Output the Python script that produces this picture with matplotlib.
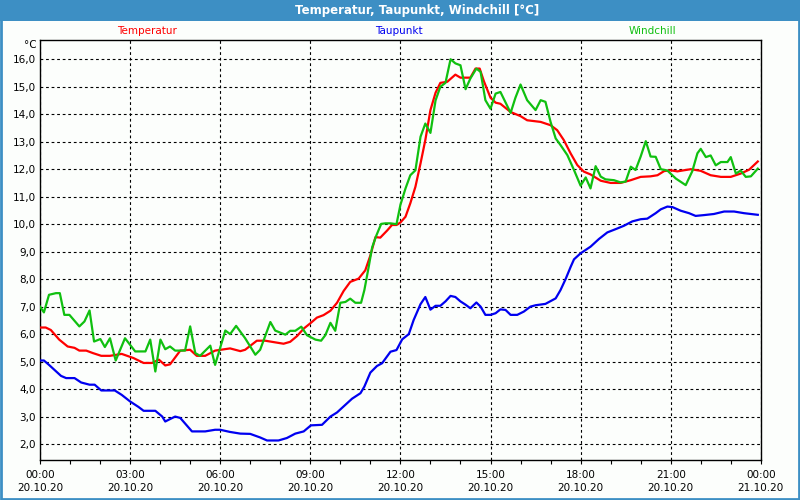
import matplotlib
matplotlib.use("Agg")
import matplotlib.pyplot as plt
from matplotlib.patches import Rectangle
from matplotlib.ticker import FixedLocator, MultipleLocator

# hours since 20.10.20 00:00
temp_h = [0, 0.19, 0.36, 0.64, 0.92, 1.15, 1.31, 1.54, 1.76, 2.04,
          2.33, 2.72, 3.11, 3.45, 3.73, 3.96, 4.17, 4.33, 4.67, 5.0,
          5.22, 5.5, 5.83, 6.33, 6.67, 6.83, 7.22, 7.5, 7.83, 8.11,
          8.33, 8.56, 8.78, 9.02, 9.22, 9.44, 9.67, 9.89, 10.11, 10.33,
          10.61, 10.83, 11.0, 11.17, 11.33, 11.56, 11.72, 11.87, 12.0, 12.17,
          12.33, 12.5, 12.67, 12.83, 13.0, 13.17, 13.33, 13.56, 13.83, 14.0,
          14.33, 14.5, 14.64, 14.78, 15.0, 15.17, 15.33, 15.67, 16.0, 16.22,
          16.67, 17.0, 17.22, 17.44, 17.67, 17.89, 18.11, 18.33, 18.67, 19.0,
          19.33, 19.67, 20.0, 20.33, 20.56, 20.78, 21.0, 21.22, 21.44, 21.67,
          22.0, 22.33, 22.67, 23.0, 23.33, 23.61, 23.9]
temp = [6.24, 6.24, 6.15, 5.8, 5.55, 5.5, 5.4, 5.4, 5.31, 5.21,
        5.21, 5.28, 5.13, 4.95, 4.95, 5.07, 4.86, 4.9, 5.4, 5.43,
        5.21, 5.21, 5.4, 5.48, 5.38, 5.43, 5.76, 5.76, 5.7, 5.65,
        5.72, 5.93, 6.2, 6.41, 6.6, 6.69, 6.85, 7.14, 7.57, 7.9,
        8.02, 8.32, 8.86, 9.53, 9.51, 9.77, 9.97, 9.97, 10.06, 10.27,
        10.76, 11.36, 12.21, 13.06, 14.15, 14.78, 15.14, 15.18, 15.44, 15.33,
        15.33, 15.66, 15.66, 15.2, 14.6, 14.42, 14.38, 14.08, 13.93, 13.78,
        13.72, 13.6, 13.42, 13.06, 12.57, 12.15, 11.91, 11.81, 11.58, 11.5,
        11.5, 11.6, 11.72, 11.74, 11.78, 11.93, 11.96, 11.92, 11.96, 12.0,
        11.94, 11.78, 11.72, 11.72, 11.84, 11.98, 12.28]

dew_h = [0, 0.13, 0.30, 0.70, 0.87, 1.15, 1.37, 1.65, 1.82, 2.04,
         2.49, 2.72, 3.0, 3.28, 3.45, 3.84, 4.07, 4.17, 4.35, 4.5,
         4.67, 5.06, 5.5, 5.83, 6.0, 6.33, 6.67, 7.0, 7.33, 7.56,
         7.94, 8.22, 8.5, 8.78, 9.02, 9.39, 9.67, 9.89, 10.17, 10.39,
         10.67, 10.8, 11.0, 11.22, 11.39, 11.67, 11.87, 12.06, 12.28, 12.44,
         12.67, 12.83, 13.0, 13.17, 13.33, 13.5, 13.67, 13.83, 14.0, 14.17,
         14.33, 14.53, 14.67, 14.83, 15.0, 15.17, 15.33, 15.5, 15.67, 15.89,
         16.11, 16.33, 16.5, 16.83, 17.0, 17.17, 17.33, 17.5, 17.67, 17.78,
         18.0, 18.33, 18.61, 18.89, 19.17, 19.44, 19.72, 20.0, 20.22, 20.5,
         20.67, 20.89, 21.06, 21.33, 21.61, 21.83, 22.11, 22.44, 22.78, 23.11,
         23.44, 23.67, 23.9]
dew = [5.04, 5.04, 4.88, 4.48, 4.4, 4.4, 4.24, 4.16, 4.16, 3.95,
       3.95, 3.79, 3.55, 3.35, 3.21, 3.21, 3.0, 2.82, 2.92, 3.0,
       2.95, 2.46, 2.46, 2.52, 2.52, 2.44, 2.38, 2.37, 2.24, 2.13,
       2.13, 2.22, 2.38, 2.46, 2.68, 2.7, 3.0, 3.15, 3.43, 3.65,
       3.85, 4.09, 4.6, 4.84, 4.94, 5.36, 5.42, 5.81, 6.0, 6.51,
       7.09, 7.35, 6.89, 7.03, 7.03, 7.19, 7.39, 7.35, 7.19, 7.07,
       6.94, 7.15, 7.0, 6.7, 6.7, 6.76, 6.9, 6.88, 6.7, 6.7,
       6.82, 7.0, 7.05, 7.1, 7.2, 7.3, 7.6, 8.0, 8.45, 8.72,
       8.94, 9.18, 9.46, 9.7, 9.82, 9.94, 10.1, 10.18, 10.2, 10.4,
       10.54, 10.64, 10.62, 10.49, 10.4, 10.3, 10.33, 10.37, 10.46, 10.46,
       10.4, 10.37, 10.34]

wc_h = [0, 0.13, 0.30, 0.53, 0.66, 0.81, 0.98, 1.31, 1.48, 1.65,
        1.80, 2.01, 2.16, 2.33, 2.52, 2.83, 3.17, 3.51, 3.67, 3.84,
        4.01, 4.17, 4.33, 4.5, 4.83, 5.0, 5.17, 5.33, 5.67, 5.83,
        6.17, 6.33, 6.53, 6.83, 7.17, 7.33, 7.67, 7.83, 8.17, 8.33,
        8.5, 8.7, 8.89, 9.17, 9.36, 9.5, 9.67, 9.83, 10.0, 10.17,
        10.33, 10.5, 10.69, 10.8, 10.94, 11.06, 11.2, 11.36, 11.5, 11.67,
        11.87, 12.0, 12.17, 12.33, 12.5, 12.67, 12.83, 13.0, 13.17, 13.33,
        13.5, 13.67, 13.83, 14.0, 14.17, 14.33, 14.53, 14.67, 14.83, 15.0,
        15.17, 15.33, 15.67, 15.83, 16.0, 16.22, 16.5, 16.67, 16.83, 17.0,
        17.17, 17.33, 17.56, 17.78, 18.0, 18.17, 18.33, 18.5, 18.67, 18.83,
        19.11, 19.33, 19.5, 19.67, 19.83, 20.0, 20.17, 20.33, 20.5, 20.67,
        20.89, 21.17, 21.5, 21.72, 21.89, 22.0, 22.17, 22.33, 22.5, 22.67,
        22.89, 23.0, 23.17, 23.33, 23.5, 23.67, 23.9]
wc = [7.0, 6.79, 7.43, 7.49, 7.49, 6.7, 6.7, 6.28, 6.46, 6.86,
      5.73, 5.82, 5.53, 5.85, 5.04, 5.85, 5.37, 5.37, 5.8, 4.64,
      5.8, 5.45, 5.55, 5.4, 5.4, 6.28, 5.31, 5.21, 5.58, 4.88,
      6.13, 6.0, 6.3, 5.85, 5.25, 5.43, 6.44, 6.13, 5.98, 6.12,
      6.12, 6.27, 5.96, 5.8, 5.76, 5.96, 6.41, 6.12, 7.14, 7.17,
      7.29, 7.14, 7.14, 7.6, 8.42, 9.16, 9.59, 10.01, 10.03, 10.03,
      10.0, 10.7, 11.3, 11.78, 11.96, 13.18, 13.66, 13.32, 14.5, 15.0,
      15.14, 16.0, 15.85, 15.78, 14.91, 15.3, 15.66, 15.54, 14.51, 14.2,
      14.75, 14.81, 14.05, 14.6, 15.08, 14.51, 14.15, 14.51, 14.45, 13.72,
      13.12, 12.88, 12.51, 11.97, 11.4, 11.7, 11.3, 12.11, 11.73, 11.63,
      11.6, 11.52, 11.55, 12.09, 11.97, 12.46, 13.02, 12.46, 12.45, 12.0,
      11.95, 11.66, 11.42, 11.93, 12.58, 12.74, 12.44, 12.5, 12.14, 12.26,
      12.26, 12.44, 11.84, 11.95, 11.72, 11.74, 12.02]

x_ticks = [0, 3, 6, 9, 12, 15, 18, 21, 24]
time_labels = ["00:00", "03:00", "06:00", "09:00", "12:00", "15:00", "18:00", "21:00", "00:00"]
date_labels = ["20.10.20"] * 8 + ["21.10.20"]
y_ticks = list(range(2, 17))

series_names = ["Temperatur", "Taupunkt", "Windchill"]
colors = ["#ff0000", "#0000f0", "#10c010"]
bar_col = "#3d8fc4"

fig = plt.figure(figsize=(8, 5), dpi=100, facecolor="#fcfefc")

# title bar and frame
fig.patches.append(Rectangle((0, 0.958), 1, 0.042, transform=fig.transFigure,
                             facecolor=bar_col, edgecolor="none", zorder=0))
fig.patches.append(Rectangle((0.001, 0.002), 0.998, 0.997, transform=fig.transFigure,
                             fill=False, edgecolor=bar_col, lw=2, zorder=1))
fig.text(0.521, 0.979, "Temperatur, Taupunkt, Windchill [°C]", color="white",
         fontsize=8.5, fontweight="bold", ha="center", va="center")

for name, col, xc in zip(series_names, colors, [0.184, 0.499, 0.815]):
    fig.text(xc, 0.937, name, color=col, fontsize=7.5, ha="center", va="center")

ax = fig.add_axes([0.05, 0.08, 0.901, 0.84])
ax.set_facecolor("#fcfefc")

ax.plot(temp_h, temp, color=colors[0], lw=1.6, zorder=3)
ax.plot(dew_h, dew, color=colors[1], lw=1.6, zorder=3)
ax.plot(wc_h, wc, color=colors[2], lw=1.6, zorder=4)

ax.set_xlim(0, 24)
ax.set_ylim(1.42, 16.7)

ax.xaxis.set_major_locator(FixedLocator(x_ticks))
ax.set_xticklabels([t + "\n" + d for t, d in zip(time_labels, date_labels)],
                   linespacing=1.45)
ax.xaxis.set_minor_locator(MultipleLocator(1))
ax.set_yticks(y_ticks)
ax.set_yticklabels([f"{v},0" for v in y_ticks])

ax.tick_params(axis="x", which="major", length=3, width=0.8, pad=4,
               labelsize=7.5, colors="black")
ax.tick_params(axis="x", which="minor", length=3, width=0.8)
ax.tick_params(axis="y", length=0, pad=3, labelsize=7.5)

ax.grid(True, which="major", color="black", lw=0.8, linestyle=(0, (2.5, 2.5)))
for s in ax.spines.values():
    s.set_color("black")
    s.set_linewidth(1.0)

fig.text(0.046, 0.91, "°C", fontsize=7.5, ha="right", va="center")

fig.savefig("out.png", dpi=100, facecolor=fig.get_facecolor())
